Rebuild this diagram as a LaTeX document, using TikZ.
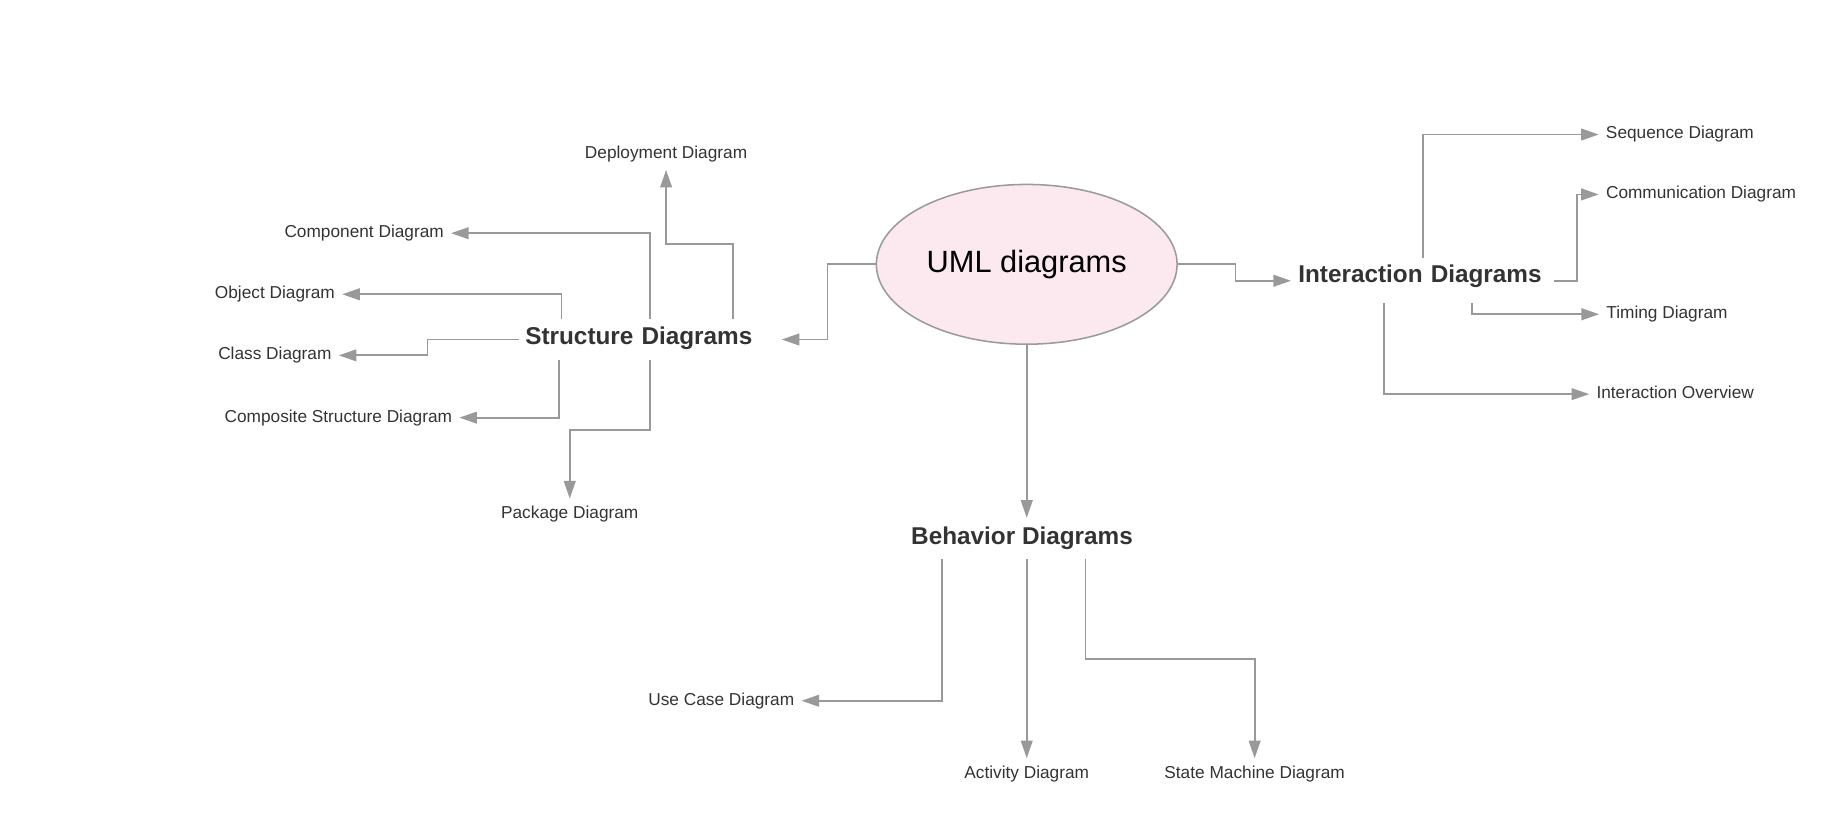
\documentclass[tikz,border=0pt]{standalone}
\usepackage{fontspec}
\setmainfont{Liberation Sans}
\usetikzlibrary{calc,positioning,shapes,arrows.meta}
\definecolor{linegray}{HTML}{999999}
\definecolor{textgray}{HTML}{333333}
\definecolor{umlpink}{HTML}{FCE8EF}
\definecolor{umlborder}{HTML}{9A9A9A}
\begin{document}
\begin{tikzpicture}[x=1pt,y=-1pt,
leaf/.style={font=\fontsize{14.7}{17}\selectfont,text=textgray,inner sep=6pt,text height=10.7pt,text depth=3.1pt},
group/.style={font=\fontsize{20.7}{24}\selectfont\bfseries,text=textgray,inner ysep=0pt},
arr/.style={draw=linegray,line width=1.5pt,-{Triangle[length=15pt,width=10pt]}}]
\useasboundingbox (0,0) rectangle (1568,707);
\node[ellipse,draw=umlborder,line width=1.3pt,fill=umlpink](uml) at (874,225) [minimum width=256pt,minimum height=136pt,font=\fontsize{26.2}{30}\selectfont] {UML diagrams};
\node[group](sd) at (442,289) [anchor=west,text width=213pt,align=left,inner xsep=5pt,text height=21.4pt,text depth=12.6pt] {Structure Diagrams};
\node[group](id) at (1099,239) [anchor=west,text width=211pt,align=left,inner xsep=6pt,text height=20.4pt,text depth=17.6pt] {Interaction Diagrams};
\node[group](bd) at (870,458.5) [inner xsep=5pt,text height=22.4pt,text depth=12.6pt] {Behavior Diagrams};
\node[leaf](dep) at (567,131.5) {Deployment Diagram};
\node[leaf](comp) at (310,198.5) {Component Diagram};
\node[leaf](obj) at (234,250.5) {Object Diagram};
\node[leaf](cls) at (234,302.5) {Class Diagram};
\node[leaf](cst) at (288,355.5) {Composite Structure Diagram};
\node[leaf](pkg) at (485,437.5) {Package Diagram};
\node[leaf](seq) at (1430,114.5) {Sequence Diagram};
\node[leaf](comm) at (1448,165.5) {Communication Diagram};
\node[leaf](tim) at (1419,267.5) {Timing Diagram};
\node[leaf](ovw) at (1426,335.5) {Interaction Overview};
\node[leaf](uc) at (614,596.5) {Use Case Diagram};
\node[leaf](act) at (874,658.5) {Activity Diagram};
\node[leaf](sm) at (1068,658.5) {State Machine Diagram};
\draw[arr] (uml.west) -- ++(-41,0) |- (sd.east);
\draw[arr] (uml.east) -- ++(49,0) |- (id.west);
\draw[arr] (uml.south) -- (uml.south |- bd.north);
\draw[arr] ($(sd.north west)+(182,0)$) -- ++(0,-64) -| (dep.south);
\draw[arr] ($(sd.north west)+(111,0)$) |- (comp.east);
\draw[arr] ($(sd.north west)+(36,0)$) |- (obj.east);
\draw[arr] (sd.west) -- ++(-78,0) |- (cls.east);
\draw[arr] ($(sd.south west)+(34,0)$) |- (cst.east);
\draw[arr] ($(sd.south west)+(111,0)$) -- ++(0,60) -| (pkg.north);
\draw[arr] ($(id.north west)+(112,0)$) |- (seq.west);
\draw[arr] (id.east) -- ++(20,0) |- (comm.west);
\draw[arr] ($(id.south west)+(154,0)$) |- (tim.west);
\draw[arr] ($(id.south west)+(79,0)$) |- (ovw.west);
\draw[arr] ($(bd.south)+(-68,0)$) |- (uc.east);
\draw[arr] (uml.south |- bd.south) -- (act.north);
\draw[arr] ($(bd.south)+(54,0)$) -- ++(0,85) -| (sm.north);
\end{tikzpicture}
\end{document}
